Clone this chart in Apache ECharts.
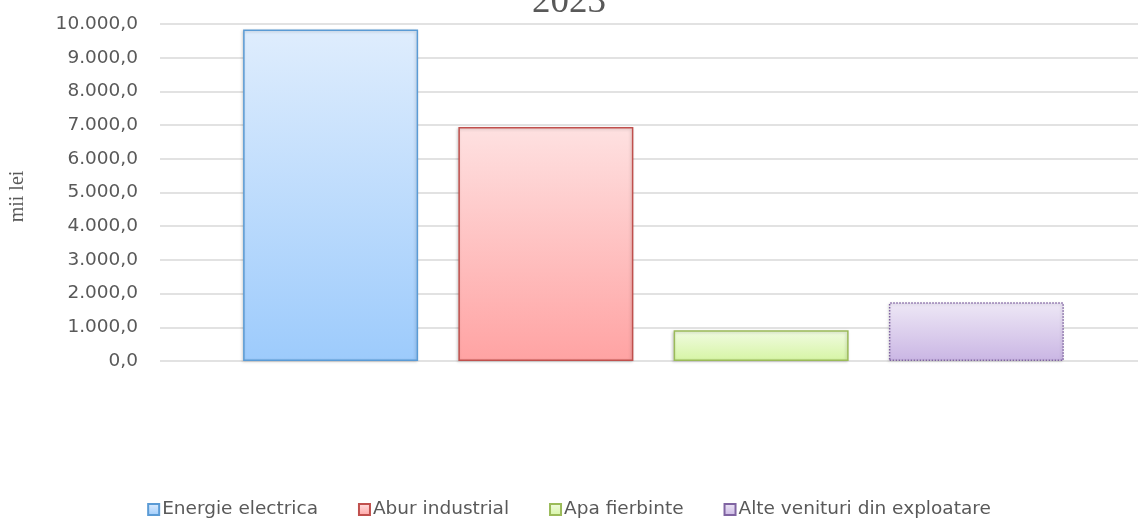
<!DOCTYPE html>
<html>
<head>
<meta charset="utf-8">
<style>
  html, body { margin: 0; padding: 0; background: #fff; }
  #chart { width: 1138px; height: 519px; }
</style>
<script src="https://cdn.jsdelivr.net/npm/echarts@6/dist/echarts.min.js"></script>
</head>
<body>
<div id="chart"></div>
<script>
var seriesNames = ['Energie electrica', 'Abur industrial', 'Apa fierbinte', 'Alte venituri din exploatare'];
var seriesValues = [9840, 6940, 910, 1740];
var yTicks = [0, 1000, 2000, 3000, 4000, 5000, 6000, 7000, 8000, 9000, 10000];

var topColors = ['#dfedfd', '#fee1e1', '#f1fbe2', '#eee8f6'];
var bottomColors = ['#9dcbfc', '#ffa3a3', '#d6f5a4', '#cab6e4'];
var borderColors = ['#5b9bd5', '#c0504d', '#9bbb59', '#8064a2'];
var borderTypes = ['solid', 'solid', 'solid', 'dotted'];

function fmt(v) {
  var s = String(Math.round(v)).replace(/\B(?=(\d{3})+(?!\d))/g, '.');
  return s + ',0';
}

var chart = echarts.init(document.getElementById('chart'));

// bars live in a second grid, slightly narrower, so the group sits where the original has it
var series = seriesNames.map(function (name, i) {
  return {
    name: name,
    type: 'bar',
    xAxisIndex: 1,
    yAxisIndex: 1,
    barWidth: 175,
    barGap: '23%',
    data: [seriesValues[i]],
    itemStyle: {
      color: new echarts.graphic.LinearGradient(0, 0, 0, 1, [
        { offset: 0, color: topColors[i] },
        { offset: 1, color: bottomColors[i] }
      ]),
      borderColor: borderColors[i],
      borderWidth: 1.5,
      borderType: borderTypes[i],
      shadowColor: 'rgba(0,0,0,0.18)',
      shadowBlur: 3,
      shadowOffsetX: -1,
      shadowOffsetY: 1
    },
    emphasis: { disabled: true }
  };
});

chart.setOption({
  animation: false,
  title: {
    text: '2023',
    left: 'center',
    top: -21,
    textStyle: {
      fontFamily: 'Liberation Serif',
      fontSize: 37,
      fontWeight: 'normal',
      color: '#595959'
    }
  },
  legend: {
    data: seriesNames,
    top: 495,
    left: 'center',
    itemWidth: 11,
    itemHeight: 11,
    itemGap: 40,
    icon: 'rect',
    textStyle: {
      fontFamily: 'DejaVu Sans',
      fontSize: 18.5,
      color: '#595959',
      padding: [0, 0, 0, -2]
    }
  },
  grid: [
    { left: 157, right: 0, top: 24, bottom: 158, containLabel: false },
    { left: 169, right: 0, top: 24, bottom: 158, containLabel: false }
  ],
  xAxis: [
    {
      type: 'category',
      gridIndex: 0,
      data: [''],
      axisLine: { show: false },
      axisTick: { show: false },
      axisLabel: { show: false }
    },
    {
      type: 'category',
      gridIndex: 1,
      data: [''],
      axisLine: { show: false },
      axisTick: { show: false },
      axisLabel: { show: false }
    }
  ],
  yAxis: [
    {
      type: 'value',
      gridIndex: 0,
      min: yTicks[0],
      max: yTicks[yTicks.length - 1],
      interval: 1000,
      name: 'mii lei',
      nameLocation: 'middle',
      nameGap: 132,
      nameTextStyle: {
        fontFamily: 'Liberation Serif',
        fontSize: 20,
        color: '#595959',
        padding: [0, 8, 0, 0]
      },
      axisLine: { show: false },
      axisTick: { show: false },
      axisLabel: {
        formatter: fmt,
        margin: 22,
        fontFamily: 'DejaVu Sans',
        fontSize: 18.5,
        color: '#595959'
      },
      splitLine: { lineStyle: { color: '#d9d9d9', width: 1.5 } }
    },
    {
      type: 'value',
      gridIndex: 1,
      min: yTicks[0],
      max: yTicks[yTicks.length - 1],
      interval: 1000,
      show: false,
      splitLine: { show: false }
    }
  ],
  series: series
});
</script>
</body>
</html>
